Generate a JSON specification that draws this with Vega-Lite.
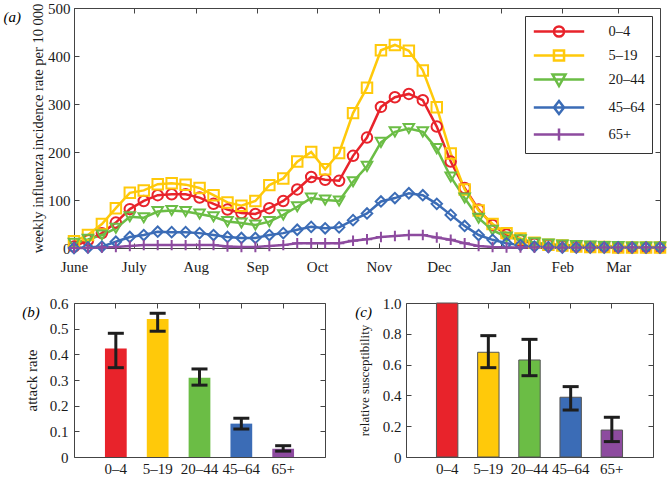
{
  "$schema": "https://vega.github.io/schema/vega-lite/v6.json",
  "padding": {"left": 2, "top": 0, "right": 5, "bottom": 0},
  "datasets": {
    "weekly": [
      {"week": "2009-06-01", "0–4": 3, "5–19": 14, "20–44": 10, "45–64": 0, "65+": 0},
      {"week": "2009-06-08", "0–4": 16, "5–19": 27, "20–44": 18, "45–64": 1, "65+": 0},
      {"week": "2009-06-15", "0–4": 31, "5–19": 50, "20–44": 27, "45–64": 3, "65+": 1},
      {"week": "2009-06-22", "0–4": 53, "5–19": 83, "20–44": 41, "45–64": 13, "65+": 2},
      {"week": "2009-06-29", "0–4": 81, "5–19": 115, "20–44": 65, "45–64": 23, "65+": 4},
      {"week": "2009-07-06", "0–4": 98, "5–19": 120, "20–44": 63, "45–64": 27, "65+": 6},
      {"week": "2009-07-13", "0–4": 110, "5–19": 133, "20–44": 76, "45–64": 34, "65+": 6},
      {"week": "2009-07-20", "0–4": 112, "5–19": 135, "20–44": 78, "45–64": 33, "65+": 6},
      {"week": "2009-07-27", "0–4": 112, "5–19": 132, "20–44": 76, "45–64": 33, "65+": 6},
      {"week": "2009-08-03", "0–4": 105, "5–19": 125, "20–44": 71, "45–64": 31, "65+": 6},
      {"week": "2009-08-10", "0–4": 92, "5–19": 110, "20–44": 65, "45–64": 27, "65+": 6},
      {"week": "2009-08-17", "0–4": 80, "5–19": 95, "20–44": 55, "45–64": 23, "65+": 3},
      {"week": "2009-08-24", "0–4": 73, "5–19": 88, "20–44": 52, "45–64": 21, "65+": 2},
      {"week": "2009-08-31", "0–4": 71, "5–19": 98, "20–44": 48, "45–64": 21, "65+": 2},
      {"week": "2009-09-07", "0–4": 83, "5–19": 131, "20–44": 55, "45–64": 27, "65+": 4},
      {"week": "2009-09-14", "0–4": 98, "5–19": 145, "20–44": 69, "45–64": 31, "65+": 6},
      {"week": "2009-09-21", "0–4": 122, "5–19": 180, "20–44": 86, "45–64": 38, "65+": 10},
      {"week": "2009-09-28", "0–4": 148, "5–19": 200, "20–44": 104, "45–64": 44, "65+": 10},
      {"week": "2009-10-05", "0–4": 142, "5–19": 164, "20–44": 100, "45–64": 41, "65+": 10},
      {"week": "2009-10-12", "0–4": 140, "5–19": 198, "20–44": 98, "45–64": 43, "65+": 10},
      {"week": "2009-10-19", "0–4": 192, "5–19": 281, "20–44": 138, "45–64": 58, "65+": 15},
      {"week": "2009-10-26", "0–4": 230, "5–19": 334, "20–44": 170, "45–64": 72, "65+": 18},
      {"week": "2009-11-02", "0–4": 294, "5–19": 412, "20–44": 220, "45–64": 97, "65+": 23},
      {"week": "2009-11-09", "0–4": 314, "5–19": 423, "20–44": 242, "45–64": 104, "65+": 25},
      {"week": "2009-11-16", "0–4": 321, "5–19": 411, "20–44": 249, "45–64": 114, "65+": 27},
      {"week": "2009-11-23", "0–4": 308, "5–19": 370, "20–44": 242, "45–64": 110, "65+": 27},
      {"week": "2009-11-30", "0–4": 253, "5–19": 293, "20–44": 207, "45–64": 92, "65+": 22},
      {"week": "2009-12-07", "0–4": 180, "5–19": 197, "20–44": 148, "45–64": 69, "65+": 17},
      {"week": "2009-12-14", "0–4": 125, "5–19": 122, "20–44": 104, "45–64": 46, "65+": 10},
      {"week": "2009-12-21", "0–4": 80, "5–19": 78, "20–44": 62, "45–64": 27, "65+": 4},
      {"week": "2009-12-28", "0–4": 48, "5–19": 50, "20–44": 37, "45–64": 17, "65+": 2},
      {"week": "2010-01-04", "0–4": 28, "5–19": 31, "20–44": 23, "45–64": 10, "65+": 1},
      {"week": "2010-01-11", "0–4": 16, "5–19": 20, "20–44": 17, "45–64": 6, "65+": 1},
      {"week": "2010-01-18", "0–4": 9, "5–19": 11, "20–44": 11, "45–64": 3, "65+": 1},
      {"week": "2010-01-25", "0–4": 6, "5–19": 7, "20–44": 8, "45–64": 2, "65+": 1},
      {"week": "2010-02-01", "0–4": 4, "5–19": 5, "20–44": 6, "45–64": 1, "65+": 1},
      {"week": "2010-02-08", "0–4": 3, "5–19": 3, "20–44": 5, "45–64": 1, "65+": 1},
      {"week": "2010-02-15", "0–4": 2, "5–19": 2, "20–44": 4, "45–64": 1, "65+": 1},
      {"week": "2010-02-22", "0–4": 2, "5–19": 2, "20–44": 3, "45–64": 1, "65+": 1},
      {"week": "2010-03-01", "0–4": 1, "5–19": 1, "20–44": 3, "45–64": 1, "65+": 1},
      {"week": "2010-03-08", "0–4": 1, "5–19": 1, "20–44": 2, "45–64": 1, "65+": 1},
      {"week": "2010-03-15", "0–4": 1, "5–19": 1, "20–44": 2, "45–64": 1, "65+": 1},
      {"week": "2010-03-22", "0–4": 1, "5–19": 1, "20–44": 2, "45–64": 1, "65+": 1}
    ],
    "bars": [
      {"group": "0–4", "attack": 0.423, "alo": 0.348, "ahi": 0.482, "sus": 1.0, "slo": null, "shi": null},
      {"group": "5–19", "attack": 0.538, "alo": 0.49, "ahi": 0.56, "sus": 0.68, "slo": 0.58, "shi": 0.788},
      {"group": "20–44", "attack": 0.309, "alo": 0.28, "ahi": 0.343, "sus": 0.63, "slo": 0.528, "shi": 0.764},
      {"group": "45–64", "attack": 0.13, "alo": 0.109, "ahi": 0.151, "sus": 0.388, "slo": 0.305, "shi": 0.457},
      {"group": "65+", "attack": 0.032, "alo": 0.023, "ahi": 0.044, "sus": 0.175, "slo": 0.1, "shi": 0.258}
    ]
  },
  "spacing": 20,
  "vconcat": [
    {
      "width": 586,
      "height": 240,
      "title": {"text": "(a)", "anchor": "start", "frame": "bounds", "fontStyle": "italic", "fontWeight": "normal", "fontSize": 15, "font": "Liberation Serif", "baseline": "top", "offset": -24, "dx": -27},
      "data": {"name": "weekly"},
      "transform": [{"fold": ["0–4", "5–19", "20–44", "45–64", "65+"], "as": ["group", "rate"]}],
      "layer": [
        {
          "mark": {"type": "line", "strokeWidth": 2.5},
          "encoding": {
            "x": {"field": "week", "type": "temporal",
              "scale": {"type": "utc", "domain": ["2009-06-01", "2010-03-22"]},
              "axis": {"title": null, "orient": "bottom", "tickCount": {"interval": "month", "step": 1}, "labelFlush": false, "labelPadding": 16,
                "labelExpr": "indexof(['Jun','Jul'], utcFormat(datum.value, '%b')) >= 0 ? utcFormat(datum.value, '%B') : utcFormat(datum.value, '%b')"}},
            "y": {"field": "rate", "type": "quantitative", "scale": {"domain": [0, 500]},
              "axis": {"title": "weekly influenza incidence rate per 10 000", "titleFontSize": 14.5, "values": [0, 100, 200, 300, 400, 500], "titlePadding": 2, "labelPadding": 9}},
            "color": {"field": "group", "type": "nominal",
              "scale": {"domain": ["0–4", "5–19", "20–44", "45–64", "65+"], "range": ["#e8232b", "#ffc90a", "#6bbd45", "#3b6cb6", "#8d4b9f"]},
              "legend": null}
          }
        },
        {
          "mark": {"type": "point", "filled": false, "strokeWidth": 2, "size": 110, "opacity": 1},
          "encoding": {
            "x": {"field": "week", "type": "temporal",
              "axis": {"title": null, "orient": "top", "labels": false, "tickCount": {"interval": "month", "step": 1}}},
            "y": {"field": "rate", "type": "quantitative",
              "axis": {"title": null, "orient": "right", "labels": false, "values": [0, 100, 200, 300, 400, 500]}},
            "color": {"field": "group", "type": "nominal",
              "scale": {"domain": ["0–4", "5–19", "20–44", "45–64", "65+"], "range": ["#e8232b", "#ffc90a", "#6bbd45", "#3b6cb6", "#8d4b9f"]},
              "legend": null},
            "shape": {"field": "group", "type": "nominal",
              "scale": {"domain": ["0–4", "5–19", "20–44", "45–64", "65+"], "range": ["circle", "square", "triangle-down", "diamond", "M-1,0H1M0,-1V1"]},
              "legend": null}
          }
        },
        {
          "mark": {"type": "point", "filled": false, "opacity": 0},
          "encoding": {
            "x": {"field": "week", "type": "temporal", "axis": null},
            "y": {"field": "rate", "type": "quantitative", "axis": null},
            "color": {"field": "group", "type": "nominal",
              "scale": {"domain": ["0–4", "5–19", "20–44", "45–64", "65+"], "range": ["#e8232b", "#ffc90a", "#6bbd45", "#3b6cb6", "#8d4b9f"]},
              "legend": {"title": null}},
            "shape": {"field": "group", "type": "nominal",
              "scale": {"domain": ["0–4", "5–19", "20–44", "45–64", "65+"], "range": ["M-3.6,0H3.6M0.72,0A0.72,0.72 0 1,1 -0.72,0A0.72,0.72 0 1,1 0.72,0Z", "M-3.6,0H3.6M-0.72,-0.72H0.72V0.72H-0.72Z", "M-3.6,0H3.6M-0.93,-0.72H0.93L0,0.93Z", "M-3.6,0H3.6M0,-0.93L0.72,0L0,0.93L-0.72,0Z", "M-3.6,0H3.6M0,-0.86V0.86"]},
              "legend": {"title": null}}
          }
        }
      ],
      "resolve": {"axis": {"x": "independent", "y": "independent"}, "scale": {"shape": "independent", "color": "independent"}}
    },
    {
      "spacing": 28,
      "hconcat": [
        {
          "width": 251,
          "height": 154,
          "title": {"text": "(b)", "anchor": "start", "frame": "bounds", "fontStyle": "italic", "fontWeight": "normal", "fontSize": 15, "font": "Liberation Serif", "baseline": "top", "offset": -24, "dx": -2},
          "data": {"name": "bars"},
          "layer": [
            {
              "mark": {"type": "bar"},
              "encoding": {
                "x": {"field": "group", "type": "nominal", "sort": null, "scale": {"paddingInner": 0.48, "paddingOuter": 0.74},
                  "axis": {"title": null, "orient": "bottom", "labelAngle": 0, "labelPadding": 9}},
                "y": {"field": "attack", "type": "quantitative", "scale": {"domain": [0, 0.6]},
                  "axis": {"title": "attack rate", "values": [0, 0.1, 0.2, 0.3, 0.4, 0.5, 0.6], "titlePadding": 10, "labelPadding": 11,
                    "labelExpr": "datum.value == 0 ? '0' : format(datum.value, '.1f')"}},
                "color": {"field": "group", "type": "nominal",
                  "scale": {"domain": ["0–4", "5–19", "20–44", "45–64", "65+"], "range": ["#e8232b", "#ffc90a", "#6bbd45", "#3b6cb6", "#8d4b9f"]},
                  "legend": null}
              }
            },
            {
              "mark": {"type": "rule", "strokeWidth": 3, "color": "#1e1e1e"},
              "encoding": {
                "x": {"field": "group", "type": "nominal", "sort": null, "axis": {"title": null, "orient": "top", "labels": false}},
                "y": {"field": "alo", "type": "quantitative", "axis": {"title": null, "orient": "right", "labels": false, "values": [0, 0.1, 0.2, 0.3, 0.4, 0.5, 0.6]}},
                "y2": {"field": "ahi"}
              }
            },
            {
              "mark": {"type": "tick", "size": 16, "thickness": 3, "color": "#1e1e1e", "opacity": 1},
              "encoding": {
                "x": {"field": "group", "type": "nominal", "sort": null, "axis": null},
                "y": {"field": "alo", "type": "quantitative", "axis": null}
              }
            },
            {
              "mark": {"type": "tick", "size": 16, "thickness": 3, "color": "#1e1e1e", "opacity": 1},
              "encoding": {
                "x": {"field": "group", "type": "nominal", "sort": null, "axis": null},
                "y": {"field": "ahi", "type": "quantitative", "axis": null}
              }
            }
          ],
          "resolve": {"axis": {"x": "independent", "y": "independent"}}
        },
        {
          "width": 247,
          "height": 154,
          "title": {"text": "(c)", "anchor": "start", "frame": "bounds", "fontStyle": "italic", "fontWeight": "normal", "fontSize": 15, "font": "Liberation Serif", "baseline": "top", "offset": -24, "dx": -3},
          "data": {"name": "bars"},
          "layer": [
            {
              "mark": {"type": "bar", "stroke": "#555", "strokeWidth": 1},
              "encoding": {
                "x": {"field": "group", "type": "nominal", "sort": null, "scale": {"paddingInner": 0.48, "paddingOuter": 0.74},
                  "axis": {"title": null, "orient": "bottom", "labelAngle": 0, "labelPadding": 9}},
                "y": {"field": "sus", "type": "quantitative", "scale": {"domain": [0, 1]},
                  "axis": {"title": "relative susceptibility", "titleFontSize": 13, "values": [0, 0.2, 0.4, 0.6, 0.8, 1], "titlePadding": 11, "labelPadding": 10,
                    "labelExpr": "datum.value == 0 ? '0' : format(datum.value, '.1f')"}},
                "color": {"field": "group", "type": "nominal",
                  "scale": {"domain": ["0–4", "5–19", "20–44", "45–64", "65+"], "range": ["#e8232b", "#ffc90a", "#6bbd45", "#3b6cb6", "#8d4b9f"]},
                  "legend": null}
              }
            },
            {
              "mark": {"type": "rule", "strokeWidth": 3, "color": "#1e1e1e"},
              "encoding": {
                "x": {"field": "group", "type": "nominal", "sort": null, "axis": {"title": null, "orient": "top", "labels": false}},
                "y": {"field": "slo", "type": "quantitative", "axis": {"title": null, "orient": "right", "labels": false, "values": [0, 0.2, 0.4, 0.6, 0.8, 1]}},
                "y2": {"field": "shi"}
              }
            },
            {
              "mark": {"type": "tick", "size": 16, "thickness": 3, "color": "#1e1e1e", "opacity": 1},
              "encoding": {
                "x": {"field": "group", "type": "nominal", "sort": null, "axis": null},
                "y": {"field": "slo", "type": "quantitative", "axis": null}
              }
            },
            {
              "mark": {"type": "tick", "size": 16, "thickness": 3, "color": "#1e1e1e", "opacity": 1},
              "encoding": {
                "x": {"field": "group", "type": "nominal", "sort": null, "axis": null},
                "y": {"field": "shi", "type": "quantitative", "axis": null}
              }
            }
          ],
          "resolve": {"axis": {"x": "independent", "y": "independent"}}
        }
      ]
    }
  ],
  "resolve": {"scale": {"color": "independent", "shape": "independent"}},
  "config": {
    "font": "Liberation Serif",
    "view": {"stroke": "#444", "strokeWidth": 1},
    "axis": {
      "grid": false,
      "domain": false,
      "tickSize": -5,
      "tickColor": "#444",
      "tickWidth": 1,
      "labelFont": "Liberation Serif",
      "labelFontSize": 15,
      "labelColor": "#1a1a1a",
      "titleFont": "Liberation Serif",
      "titleFontSize": 15,
      "titleFontWeight": "normal",
      "titleColor": "#1a1a1a"
    },
    "legend": {
      "orient": "top-right",
      "offset": 8,
      "padding": 7,
      "strokeColor": "#333",
      "fillColor": "white",
      "labelFont": "Liberation Serif",
      "labelFontSize": 14.5,
      "labelColor": "#1a1a1a",
      "symbolSize": 196,
      "symbolStrokeWidth": 2.5,
      "symbolOpacity": 1,
      "symbolOffset": 18.5,
      "labelOffset": 41,
      "rowPadding": 3
    }
  }
}
